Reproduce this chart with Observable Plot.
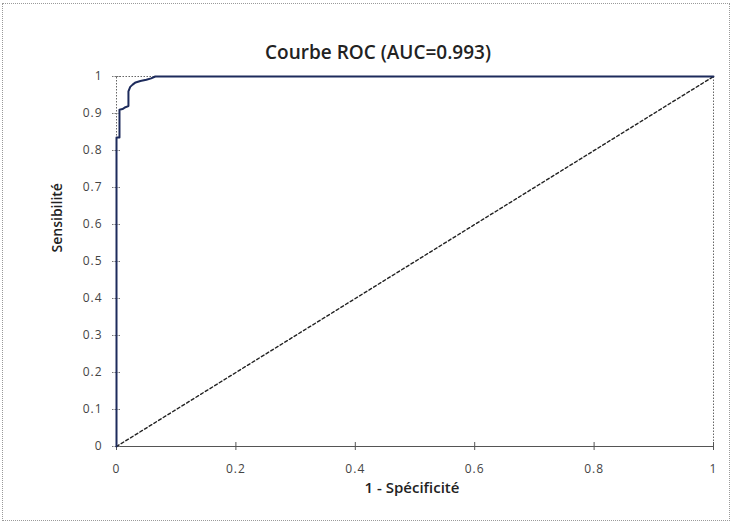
<!DOCTYPE html>
<html>
<head>
<meta charset="utf-8">
<script src="https://cdn.jsdelivr.net/npm/d3@7"></script>
<script src="https://cdn.jsdelivr.net/npm/@observablehq/plot@0.6"></script>
<style>
  html, body { margin: 0; padding: 0; background: #fff; }
  #chart { width: 733px; height: 528px; position: relative; }
  #chart svg { font-family: "Open Sans", "DejaVu Sans", sans-serif; }
  #chart svg g[aria-label="y-axis tick label"] text,
  #chart svg g[aria-label="x-axis tick label"] text { letter-spacing: 1px; }
  #border { position: absolute; left: 2px; top: 3px; width: 728px; height: 518px; border: 1px dotted #9a9a9a; box-sizing: border-box; pointer-events: none; }
</style>
</head>
<body>
<div id="chart"><div id="border"></div></div>
<script>
const chartTitle = "Courbe ROC (AUC=0.993)";
const xLabel = "1 - Spécificité";
const yLabel = "Sensibilité";

// ROC curve: false positive rate (1 - specificity) and sensitivity
const fpr = [0, 0, 0.005, 0.005, 0.01, 0.015, 0.02, 0.02, 0.023, 0.027, 0.032, 0.04, 0.05, 0.058, 0.065, 1];
const tpr = [0, 0.835, 0.835, 0.91, 0.912, 0.917, 0.92, 0.96, 0.972, 0.978, 0.984, 0.988, 0.991, 0.995, 1, 1];

// diagonal reference line
const diagX = [0, 1];
const diagY = [0, 1];

const xTicks = [0, 0.2, 0.4, 0.6, 0.8, 1];
const yTicks = [0, 0.1, 0.2, 0.3, 0.4, 0.5, 0.6, 0.7, 0.8, 0.9, 1];

const roc = fpr.map((x, i) => ({x, y: tpr[i]}));
const diag = diagX.map((x, i) => ({x, y: diagY[i]}));

const plot = Plot.plot({
  width: 733,
  height: 528,
  marginTop: 76,
  marginLeft: 116,
  marginRight: 20,
  marginBottom: 82,
  style: {fontSize: "12px", color: "#333", background: "transparent"},
  x: {type: "linear", domain: [0, 1], label: null},
  y: {type: "linear", domain: [0, 1], label: null},
  marks: [
    Plot.frame({stroke: "#666", strokeDasharray: "1.5,1.5", strokeWidth: 1}),
    Plot.ruleY([0], {stroke: "#555", strokeWidth: 1}),
    Plot.axisX({ticks: xTicks, tickFormat: d => String(d), tickSize: 4, tickPadding: 14, fill: "#444", stroke: "#555"}),
    Plot.axisX({ticks: xTicks, tickFormat: () => "", tickSize: -4, stroke: "#555"}),
    Plot.axisY({ticks: yTicks, tickFormat: d => String(d), tickSize: 4, tickPadding: 10, fill: "#444", stroke: "#777", strokeDasharray: "1.5,1"}),
    Plot.axisY({ticks: yTicks, tickFormat: () => "", tickSize: -4, stroke: "#777", strokeDasharray: "1.5,1"}),
    Plot.line(diag, {x: "x", y: "y", stroke: "#222", strokeWidth: 1.4, strokeDasharray: "3,2.5"}),
    Plot.line(roc, {x: "x", y: "y", stroke: "#1d2b5c", strokeWidth: 2}),
    Plot.text([chartTitle], {frameAnchor: "top", dx: -37, dy: -31, text: d => d, fontSize: 19, fontWeight: 600, fill: "#222", style: "letter-spacing:0.5px"}),
    Plot.text([xLabel], {frameAnchor: "bottom", dx: -3, dy: 46, text: d => d, fontSize: 15, fontWeight: 600, fill: "#222"}),
    Plot.text([yLabel], {frameAnchor: "left", dx: -59, dy: -9, rotate: -90, text: d => d, fontSize: 14, fontWeight: 600, fill: "#222"})
  ]
});
document.getElementById("chart").appendChild(plot);
</script>
</body>
</html>
